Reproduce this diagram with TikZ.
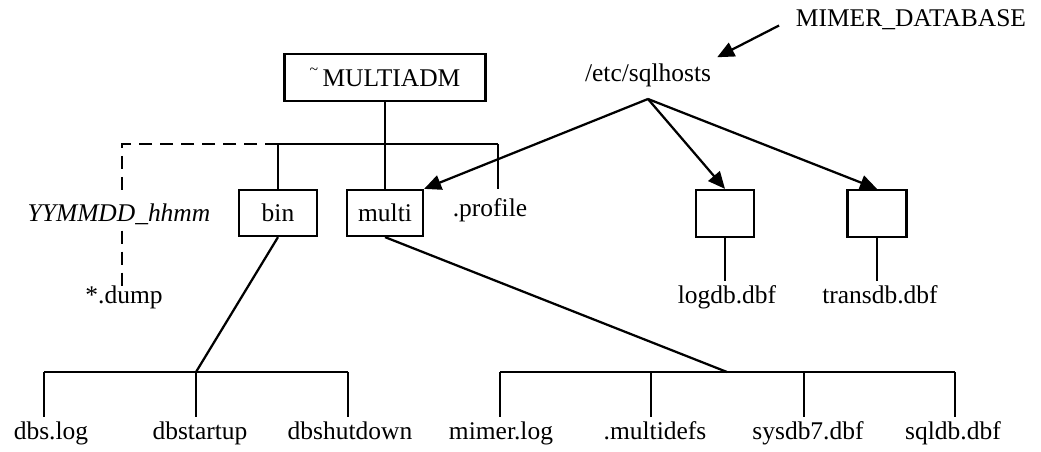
\documentclass[tikz,border=0pt]{standalone}
\usepackage{fontspec}
\setmainfont{Liberation Serif}
\usepackage{tikz}
\usetikzlibrary{arrows.meta}
\tikzset{>={Triangle[length=0.34cm,width=0.3cm]}}
\tikzset{
    every node/.style={font=\fontsize{14.5}{16}\selectfont},
    dir/.style={draw,line width=0.045cm,minimum height=0.92cm,inner sep=0pt},
    leaf/.style={anchor=north,inner xsep=0pt,inner ysep=0.2cm,text height=0.7em,text depth=0.22em},
    link/.style={line width=0.045cm},
    tmp/.style={link,dash pattern=on 0.26cm off 0.16cm}
}
\newcommand{\hometilde}{\raisebox{0.45em}{\fontsize{9}{9}\selectfont\textasciitilde}\,}

\begin{document}
\begin{tikzpicture}[x=0.02cm,y=-0.02cm]
    \useasboundingbox (0,0) rectangle (1041,452);
    % home directory of the admin user
    \node[dir,minimum width=4.02cm,minimum height=0.94cm] at (385,77.5) (root) {\hometilde MULTIADM};
    \node[dir,minimum width=1.56cm] at (278,213) (bin) {bin};
    \node[dir,minimum width=1.52cm] at (385,213) (multi) {multi};
    \node[leaf,inner ysep=0.3cm] at (490,189) (profile) {.profile};
    \node at (119,214) (stamp) {\itshape YYMMDD\_hhmm};
    \node[leaf,inner ysep=0.08cm] at (124,287) (dump) {*.dump};
    \coordinate (fork) at (385,144);
    \coordinate (binjoin) at (278,144);
    \coordinate (profjoin) at (498,144);
    \coordinate (corner) at (122,144);
    \draw[link] (root) -- (fork);
    \draw[link] (binjoin) -- (profjoin);
    \draw[link] (binjoin) -- (bin);
    \draw[link] (fork) -- (multi);
    \draw[link] (profjoin) -- (profjoin |- profile.north);
    \draw[tmp] (binjoin) -- (corner) -- (corner |- stamp.north);
    \draw[tmp] (corner |- stamp.south) -- (corner |- dump.north);

    % databank files
    \node at (648,75) (hosts) {/etc/sqlhosts};
    \node at (911,20) (mimer) {MIMER\_DATABASE};
    \node[dir,minimum width=1.16cm,minimum height=0.94cm] at (725,213.5) (logbox) {};
    \node[dir,minimum width=1.18cm,minimum height=0.94cm] at (877,213.5) (transbox) {};
    \node[leaf] at (727,281) (logdb) {logdb.dbf};
    \node[leaf] at (880,281) (transdb) {transdb.dbf};
    \draw[link] (logbox) -- (logbox |- logdb.north);
    \draw[link] (transbox) -- (transbox |- transdb.north);
    \coordinate (hostfork) at (648,99);
    \path[->,link]
    (hostfork) edge (multi.north east)
    (hostfork) edge (logbox.north)
    (hostfork) edge (transbox.north)
    ;
    \draw[->,link,shorten <=0.24cm] (mimer.west) -- (hosts.north east);

    % contents of bin
    \node[leaf] at (51,417) (dbslog) {dbs.log};
    \node[leaf] at (200,417) (startup) {dbstartup};
    \node[leaf] at (350,417) (shutdown) {dbshutdown};
    \coordinate (dbsjoin) at (44,372);
    \coordinate (binfork) at (196,372);
    \coordinate (downjoin) at (348,372);
    \draw[link] (dbsjoin) -- (downjoin);
    \draw[link] (bin.south) -- (binfork);
    \foreach \j/\n in {dbsjoin/dbslog,binfork/startup,downjoin/shutdown}
        \draw[link] (\j) -- (\j |- \n.north);

    % contents of multi
    \node[leaf] at (501,417) (mimerlog) {mimer.log};
    \node[leaf] at (655,417) (multidefs) {.multidefs};
    \node[leaf] at (808,417) (sysdb) {sysdb7.dbf};
    \node[leaf] at (953,417) (sqldb) {sqldb.dbf};
    \coordinate (mlogjoin) at (500,372);
    \coordinate (defsjoin) at (651,372);
    \coordinate (multifork) at (727,372);
    \coordinate (sysjoin) at (804,372);
    \coordinate (sqljoin) at (955,372);
    \draw[link] (mlogjoin) -- (sqljoin);
    \draw[link] (multi.south) -- (multifork);
    \foreach \j/\n in {mlogjoin/mimerlog,defsjoin/multidefs,sysjoin/sysdb,sqljoin/sqldb}
        \draw[link] (\j) -- (\j |- \n.north);
\end{tikzpicture}
\end{document}
